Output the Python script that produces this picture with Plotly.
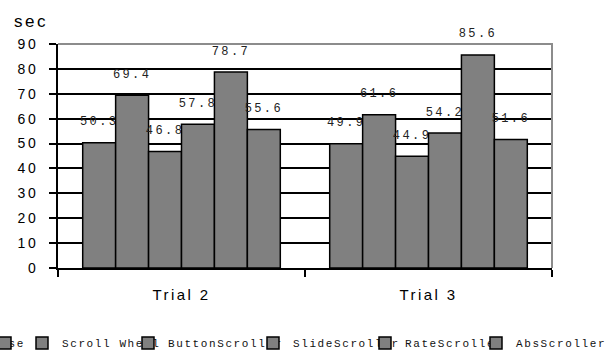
import plotly.graph_objects as go

categories = ["Trial 2", "Trial 3"]
series_names = ["Mouse", "Scroll Wheel", "ButtonScroller", "SlideScroller", "RateScroller", "AbsScroller"]
mouse = [50.3, 49.9]
scroll_wheel = [69.4, 61.6]
button_scroller = [46.8, 44.9]
slide_scroller = [57.8, 54.2]
rate_scroller = [78.7, 85.6]
abs_scroller = [55.6, 51.6]
series_values = [mouse, scroll_wheel, button_scroller, slide_scroller, rate_scroller, abs_scroller]
y_ticks = [0, 10, 20, 30, 40, 50, 60, 70, 80, 90]
y_title = "sec"

# legend left positions (px) for each legend box
legend_px = [0, 22, 128, 253, 365, 476]

W, H = 606, 354
ML, MR, MT, MB = 58, 54, 44, 86


def spaced(s, px):
    return f'<span style="letter-spacing:{px}px">{s}</span>'


fig = go.Figure()
for i, (name, vals) in enumerate(zip(series_names, series_values)):
    lid = "legend" if i == 0 else f"legend{i+1}"
    labels = [spaced(f"{v:.1f}", 2.4)
              + '<br><span style="color:rgba(0,0,0,0);baseline-shift:5px">0</span>' for v in vals]
    if i == 0:
        lname = f'<span style="letter-spacing:1.6px;text-anchor:end">{name}</span>'
    else:
        lname = spaced(name, 1.6)
    fig.add_trace(go.Bar(
        x=categories, y=vals, name=lname,
        marker=dict(color="#808080", line=dict(color="black", width=1.5)),
        text=labels, textposition="outside", texttemplate="%{text}",
        textfont=dict(family="Liberation Mono", size=12, color="#222222"),
        constraintext="none", cliponaxis=False,
        legend=lid,
    ))

legends = {}
for i, px in enumerate(legend_px):
    lid = "legend" if i == 0 else f"legend{i+1}"
    legends[lid] = dict(
        xref="container", yref="container", x=px / W, y=(H - 343) / H,
        xanchor="left", yanchor="middle", orientation="h",
        bgcolor="rgba(0,0,0,0)", borderwidth=0,
        indentation=-15 if i == 0 else 0,
        font=dict(family="Liberation Mono", size=11, color="#111111"),
    )

fig.update_layout(
    width=W, height=H,
    margin=dict(l=ML, r=MR, t=MT, b=MB, autoexpand=False),
    paper_bgcolor="white", plot_bgcolor="white",
    barmode="group", bargap=0.2, bargroupgap=0,
    showlegend=True,
    **legends,
    xaxis=dict(
        type="category", showline=True, linecolor="black", linewidth=2,
        ticks="outside", tickson="boundaries", ticklen=7, tickcolor="black", tickwidth=2,
        tickvals=categories, ticktext=[spaced(c, 2.4) for c in categories],
        tickfont=dict(family="Liberation Sans", size=15, color="black"),
        ticklabelstandoff=12, showgrid=False,
    ),
    yaxis=dict(
        range=[0, 90], showline=True, linecolor="black", linewidth=2,
        tickvals=y_ticks, ticktext=[spaced(str(t), 2.5) for t in y_ticks],
        ticks="outside", ticklen=7, tickcolor="black", tickwidth=2,
        tickfont=dict(family="Liberation Sans", size=14, color="black"),
        ticklabelstandoff=8,
        showgrid=True, gridcolor="black", gridwidth=1.5, zeroline=False,
    ),
    shapes=[dict(type="path", xref="paper", yref="paper",
                 path="M 0,1 L 1,1 L 1,0", line=dict(color="#8c8c8c", width=2),
                 layer="above")],
    annotations=[dict(text=spaced(y_title, 2.5), xref="paper", yref="paper", x=0, y=1,
                      xanchor="right", yanchor="middle", xshift=-8, yshift=23,
                      showarrow=False,
                      font=dict(family="Liberation Sans", size=17, color="black"))],
)

fig.write_html("out.html", config={"displayModeBar": False},
               post_script="document.body.style.margin='0';")
